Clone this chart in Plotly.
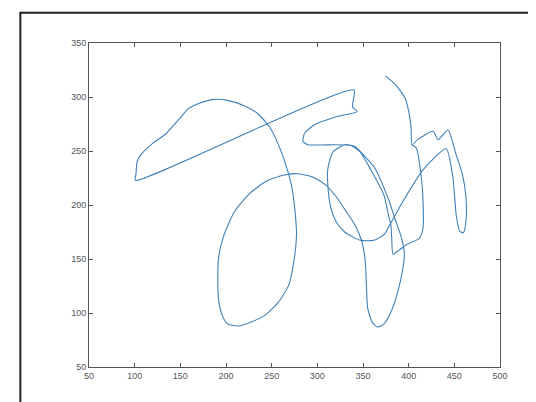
import plotly.graph_objects as go

# Pen trajectory, split into consecutive strokes (data units)
top_x = [374.5, 386.1, 396.0, 400.4, 402.6, 403.7]
top_y = [319.5, 311.1, 299.0, 285.2, 271.3, 255.6]

zig_x = [409.7, 426.7, 432.1, 436.5, 443.0]
zig_y = [260.5, 268.2, 260.5, 263.9, 269.7]

rloop_x = [452.0, 459.0, 462.5, 463.0, 460.0, 456.0, 452.0, 448.5, 441.0]
rloop_y = [246.6, 228.0, 209.0, 188.0, 174.5, 175.5, 191.0, 225.0, 252.0]

ldiag_x = [415.7, 393.8, 379.0]
ldiag_y = [232.5, 203.4, 181.0]

mell_x = [373.0, 362.0, 347.0, 330.0, 320.9, 315.0, 311.5, 311.5, 317.0, 330.0]
mell_y = [172.5, 167.3, 167.3, 175.0, 184.0, 196.6, 218.0, 233.6, 249.0, 255.8]

diag_x = [340.9, 352.0, 362.8, 377.4, 384.7, 392.0, 395.3]
diag_y = [254.3, 245.0, 234.3, 206.5, 188.0, 170.0, 155.0]

lloop_x = [393.6, 388.0, 380.6, 373.1, 365.6, 360.0, 355.2, 353.7, 352.6, 348.9,
           341.4, 332.0, 320.9, 309.7, 294.8, 278.0]
lloop_y = [141.0, 119.4, 100.9, 90.0, 87.0, 91.7, 104.0, 125.6, 147.2, 165.7,
           181.2, 193.5, 207.4, 218.2, 226.0, 229.0]

lell_x = [261.2, 242.5, 223.9, 209.0, 197.7, 192.2, 191.0, 192.2, 195.9, 201.5,
          212.7, 227.6, 242.5, 257.4, 268.6, 274.2, 277.2, 276.0, 272.4]
lell_y = [227.4, 221.3, 209.0, 193.5, 171.9, 153.4, 134.9, 110.0, 97.8, 90.0,
          88.0, 91.7, 97.8, 110.0, 125.6, 147.2, 172.0, 190.4, 215.0]

bird_x = [266.8, 259.3, 248.0, 235.0, 220.0, 201.5, 186.6, 171.6, 158.6, 149.2,
          134.3, 119.4, 106.3, 102.6, 101.5, 100.7]
bird_y = [233.6, 252.0, 272.0, 284.5, 292.0, 296.9, 297.8, 294.4, 289.0, 280.0,
          266.0, 256.8, 246.0, 239.8, 229.0, 222.8]

hook_x = [340.0, 338.5, 343.5, 322.6, 297.1, 286.2, 284.3, 289.8, 305.0, 319.0, 331.0]
hook_y = [306.5, 291.0, 286.5, 282.1, 274.3, 266.7, 259.0, 255.8, 255.6, 255.8, 255.6]

erside_x = [336.8, 347.0, 358.0, 373.0, 378.0, 380.6]
erside_y = [255.0, 249.0, 233.6, 209.0, 190.0, 181.0]

bzig_x = [381.5, 382.9, 390.2, 397.4, 412.0, 415.7, 415.7, 413.9, 408.4, 403.7]
bzig_y = [168.0, 154.5, 158.6, 163.2, 169.4, 178.7, 203.4, 225.0, 252.8, 255.6]

x_ticks = [50, 100, 150, 200, 250, 300, 350, 400, 450, 500]
y_ticks = [50, 100, 150, 200, 250, 300, 350]

segments_x = [top_x, zig_x, rloop_x, ldiag_x, mell_x, diag_x, lloop_x, lell_x,
              bird_x, hook_x, erside_x, bzig_x]
segments_y = [top_y, zig_y, rloop_y, ldiag_y, mell_y, diag_y, lloop_y, lell_y,
              bird_y, hook_y, erside_y, bzig_y]
xs, ys = [], []
for sx, sy in zip(segments_x, segments_y):
    xs += sx
    ys += sy

fig = go.Figure()
fig.add_trace(go.Scatter(x=xs, y=ys, mode="lines",
                         line=dict(color="#3f80b8", width=1.1, shape="spline", smoothing=0.6),
                         hoverinfo="skip", showlegend=False))

axis_common = dict(showgrid=False, zeroline=False, showline=True, linecolor="#555555",
                   linewidth=1, mirror="allticks", ticks="inside", ticklen=4,
                   tickcolor="#555555", tickfont=dict(family="Liberation Sans", size=9, color="#555555"))
fig.update_xaxes(range=[50, 500], tickvals=x_ticks, ticktext=[str(v) for v in x_ticks], **axis_common)
fig.update_yaxes(range=[50, 350], tickvals=y_ticks, ticktext=[str(v) for v in y_ticks], **axis_common)

# outer figure frame
fig.add_shape(type="rect", xref="paper", yref="paper",
              x0=-0.167, x1=1.098, y0=-0.14, y1=1.093,
              line=dict(color="#222222", width=2), fillcolor="rgba(0,0,0,0)", layer="above")

fig.update_layout(width=536, height=402, margin=dict(l=81, r=44, t=35, b=43),
                  paper_bgcolor="white", plot_bgcolor="white")
fig.write_html("out.html")
